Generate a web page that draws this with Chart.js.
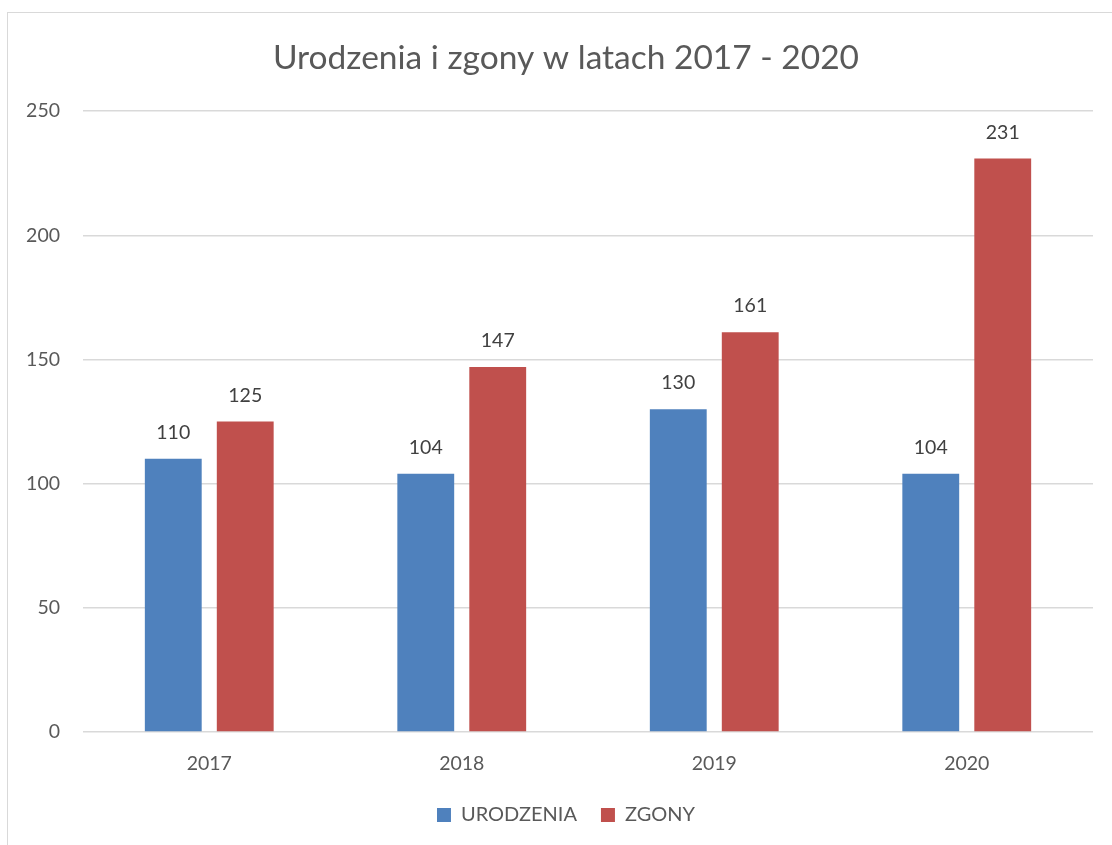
<!DOCTYPE html>
<html>
<head>
<meta charset="utf-8">
<script src="https://cdn.jsdelivr.net/npm/chart.js@4"></script>
<style>
  html, body { margin: 0; padding: 0; background: #fff; overflow: hidden; }
  #wrap { position: relative; width: 1112px; height: 845px; overflow: hidden; }
  #frame { position: absolute; left: 7px; top: 12px; width: 1200px; height: 900px; border: 1px solid #d9d9d9; box-sizing: border-box; }
  canvas { position: absolute; left: 0; top: 0; }
</style>
</head>
<body>
<div id="wrap">
  <div id="frame"></div>
  <canvas id="chart" width="1132" height="845"></canvas>
</div>
<script>
// Urodzenia i zgony w latach 2017 - 2020
const years = ['2017', '2018', '2019', '2020'];
const urodzenia = [110, 104, 130, 104];
const zgony = [125, 147, 161, 231];
const yTicks = [0, 50, 100, 150, 200, 250];

const FONT = 'Lato, "Open Sans", sans-serif';

// draws the value above each bar (no datalabels plugin available)
const barLabels = {
  id: 'barLabels',
  afterDatasetsDraw(chart) {
    const ctx = chart.ctx;
    ctx.save();
    ctx.font = '19.5px ' + FONT;
    ctx.fillStyle = '#404040';
    ctx.textAlign = 'center';
    ctx.textBaseline = 'middle';
    chart.data.datasets.forEach((ds, i) => {
      chart.getDatasetMeta(i).data.forEach((bar, j) => {
        ctx.fillText(ds.data[j], bar.x, bar.y - 26);
      });
    });
    ctx.restore();
  }
};

new Chart(document.getElementById('chart'), {
  type: 'bar',
  data: {
    labels: years,
    datasets: [
      { label: 'URODZENIA', data: urodzenia, backgroundColor: '#4f81bd' },
      { label: 'ZGONY', data: zgony, backgroundColor: '#c0504d' }
    ]
  },
  options: {
    responsive: false,
    animation: false,
    devicePixelRatio: 1,
    categoryPercentage: 0.57,
    barPercentage: 0.79,
    layout: { padding: { left: 0, right: 0, top: 0, bottom: 10 } },
    plugins: {
      title: {
        display: true,
        text: 'Urodzenia i zgony w latach 2017 - 2020',
        color: '#595959',
        font: { family: FONT, size: 33.5, weight: 'normal' },
        padding: { top: 38, bottom: 33 }
      },
      legend: {
        position: 'bottom',
        labels: {
          color: '#595959',
          font: { family: FONT, size: 20 },
          boxWidth: 14,
          boxHeight: 14,
          padding: 24
        }
      },
      tooltip: { enabled: false }
    },
    scales: {
      x: {
        afterFit(scale) { scale.height = 49; },
        grid: { display: false, drawTicks: false },
        border: { display: false },
        ticks: { color: '#595959', font: { family: FONT, size: 19.5 }, padding: 20 }
      },
      y: {
        min: 0,
        max: 250,
        afterBuildTicks(scale) { scale.ticks = yTicks.map(v => ({ value: v })); },
        afterFit(scale) { scale.width = 83; },
        grid: { color: '#d9d9d9', lineWidth: 1.5, drawTicks: false },
        border: { display: false },
        ticks: { color: '#595959', font: { family: FONT, size: 19.5 }, padding: 23 }
      },
      // empty right margin so the title and legend centre like the original
      yr: {
        type: 'linear',
        position: 'right',
        min: 0,
        max: 1,
        afterFit(scale) { scale.width = 39; },
        grid: { display: false, drawTicks: false },
        border: { display: false },
        ticks: { display: false }
      }
    }
  },
  plugins: [barLabels]
});
</script>
</body>
</html>
